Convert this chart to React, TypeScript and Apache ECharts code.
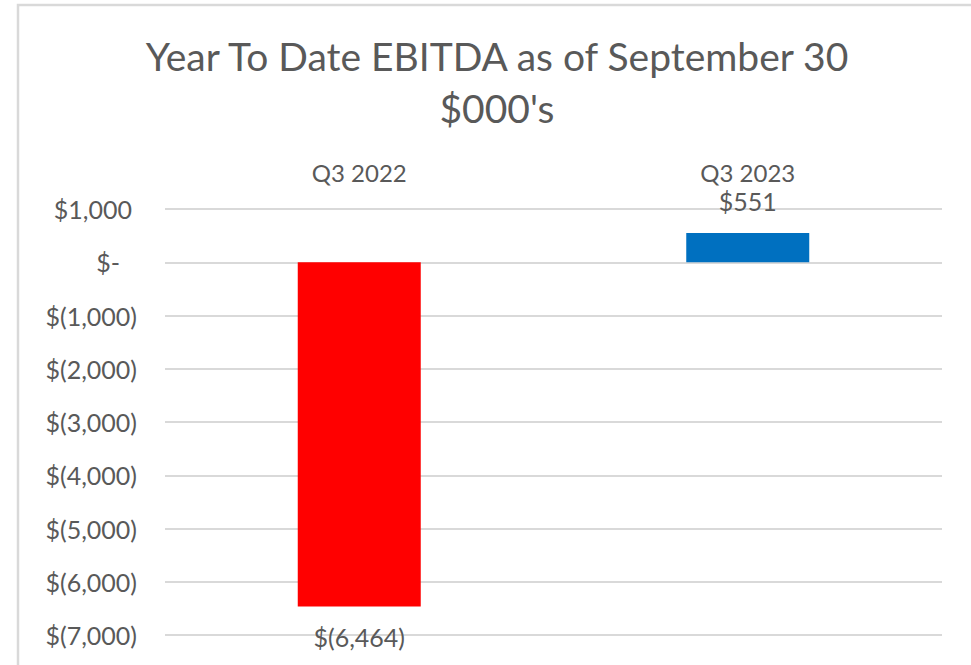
import React, { useEffect, useRef } from "react";
import * as echarts from "echarts";

const titleLines = ["Year To Date EBITDA as of September 30", "$000's"];
const categories = ["Q3 2022", "Q3 2023"];
const ebitdaValues = [-6464, 551];
const barColors = ["#FF0000", "#0070C0"];
const yMin = -7000;
const yMax = 1000;
const yInterval = 1000;

const FONT = "Lato";
const TEXT = "#595959";
const LABEL_SIZE = 25;

function fmtMoney(v: number): string {
  if (v === 0) return "$-";
  const s = Math.abs(v).toLocaleString("en-US");
  return v < 0 ? `$(${s})` : `$${s}`;
}

export default function App() {
  const ref = useRef<HTMLDivElement>(null);
  useEffect(() => {
    if (!ref.current) return;
    const chart = echarts.init(ref.current, undefined, { renderer: "svg" });
    chart.setOption({
      animation: false,
      backgroundColor: "#ffffff",
      textStyle: { fontFamily: FONT, color: TEXT },
      title: {
        text: titleLines.join("\n"),
        left: 492,
        textAlign: "center",
        top: 25,
        textStyle: {
          fontFamily: FONT,
          fontSize: 39,
          fontWeight: "normal",
          color: TEXT,
          lineHeight: 52,
        },
      },
      graphic: [
        {
          type: "rect",
          shape: { x: 18, y: 5, width: 1000, height: 1000 },
          style: { fill: "none", stroke: "#d9d9d9", lineWidth: 2.5 },
          silent: true,
        },
      ],
      grid: { left: 165, right: 29, top: 209, bottom: 30, containLabel: false },
      xAxis: {
        type: "category",
        position: "top",
        data: categories,
        axisLine: { show: false },
        axisTick: { show: false },
        axisLabel: { color: TEXT, fontFamily: FONT, fontSize: 24, margin: 25 },
      },
      yAxis: {
        type: "value",
        min: yMin,
        max: yMax,
        interval: yInterval,
        axisLine: { show: false },
        axisTick: { show: false },
        splitLine: { lineStyle: { color: "#d9d9d9", width: 2 } },
        axisLabel: {
          margin: 28,
          formatter: (v: number) => {
            if (v === 0) return "{z|$-}";
            if (v > 0) return `{p|${fmtMoney(v)}}`;
            return `{n|${fmtMoney(v)}}`;
          },
          rich: {
            z: { fontFamily: FONT, fontSize: LABEL_SIZE, color: TEXT, padding: [0, 17, 0, 0] },
            p: { fontFamily: FONT, fontSize: LABEL_SIZE, color: TEXT, padding: [0, 5, 0, 0] },
            n: { fontFamily: FONT, fontSize: LABEL_SIZE, color: TEXT },
          },
        },
      },
      series: [
        {
          type: "bar",
          barWidth: 123,
          data: ebitdaValues.map((v, i) => ({
            value: v,
            itemStyle: { color: barColors[i] },
            label: {
              show: true,
              position: v < 0 ? "bottom" : "top",
              distance: v < 0 ? 18 : 19,
              formatter: () => fmtMoney(v),
              color: TEXT,
              fontFamily: FONT,
              fontSize: LABEL_SIZE,
            },
          })),
        },
      ],
    });
    return () => chart.dispose();
  }, []);
  return (
    <div
      ref={ref}
      style={{ position: "fixed", left: 0, top: 0, width: 971, height: 665 }}
    />
  );
}
